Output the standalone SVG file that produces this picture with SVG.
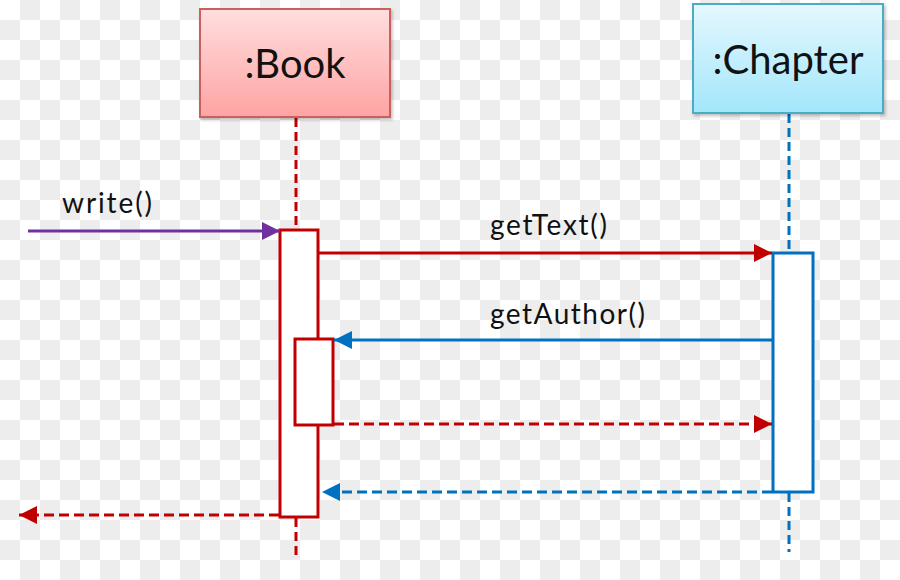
<svg xmlns="http://www.w3.org/2000/svg" width="900" height="580" viewBox="0 0 900 580">
  <defs>
    <pattern id="checker" width="40" height="40" patternUnits="userSpaceOnUse">
      <rect width="40" height="40" fill="#ffffff"/>
      <rect x="20" y="0" width="20" height="20" fill="#ededed"/>
      <rect x="0" y="20" width="20" height="20" fill="#ededed"/>
    </pattern>
    <linearGradient id="gBook" x1="0" y1="0" x2="0" y2="1">
      <stop offset="0" stop-color="#ffdede"/>
      <stop offset="1" stop-color="#ffa3a3"/>
    </linearGradient>
    <linearGradient id="gChap" x1="0" y1="0" x2="0" y2="1">
      <stop offset="0" stop-color="#e4f8ff"/>
      <stop offset="1" stop-color="#a3e6fb"/>
    </linearGradient>
    <filter id="shadow" x="-10%" y="-10%" width="125%" height="130%">
      <feDropShadow dx="1.5" dy="2" stdDeviation="1.5" flood-color="#000" flood-opacity="0.25"/>
    </filter>
    <marker id="aRed" viewBox="0 0 18 18" refX="18" refY="9" markerWidth="18" markerHeight="18" markerUnits="userSpaceOnUse" orient="auto">
      <path d="M0,0 L18,9 L0,18 Z" fill="#c00000"/>
    </marker>
    <marker id="aBlue" viewBox="0 0 18 18" refX="18" refY="9" markerWidth="18" markerHeight="18" markerUnits="userSpaceOnUse" orient="auto">
      <path d="M0,0 L18,9 L0,18 Z" fill="#0070c0"/>
    </marker>
    <marker id="aPurple" viewBox="0 0 18 18" refX="18" refY="9" markerWidth="18" markerHeight="18" markerUnits="userSpaceOnUse" orient="auto">
      <path d="M0,0 L18,9 L0,18 Z" fill="#7030a0"/>
    </marker>
  </defs>
  <style>
    .label { font-family: Lato, "Open Sans", "Liberation Sans", sans-serif; fill: #111; }
    .title { font-size: 40px; text-anchor: middle; }
    .msg { font-size: 28px; }
    .life-red { stroke: #c00000; stroke-width: 3; stroke-dasharray: 9 5; fill: none; }
    .life-blue { stroke: #0070c0; stroke-width: 3; stroke-dasharray: 9 5; fill: none; }
    .act-red { fill: #ffffff; stroke: #c00000; stroke-width: 3; }
    .act-blue { fill: #ffffff; stroke: #0070c0; stroke-width: 3; }
    .c-red { stroke: #c00000; stroke-width: 3; fill: none; }
    .c-blue { stroke: #0070c0; stroke-width: 3; fill: none; }
    .c-purple { stroke: #7030a0; stroke-width: 3; fill: none; }
    .dash { stroke-dasharray: 10 5; }
  </style>

  <rect width="900" height="580" fill="url(#checker)"/>

  <g id="lifelines">
    <line class="life-red" x1="296" y1="118" x2="296" y2="230"/>
    <line class="life-red" x1="296" y1="518" x2="296" y2="560"/>
    <line class="life-blue" x1="789" y1="114" x2="789" y2="253"/>
    <line class="life-blue" x1="789" y1="493" x2="789" y2="552"/>
  </g>

  <g id="book">
    <rect x="200" y="9" width="190" height="108" fill="url(#gBook)" stroke="#c9605d" stroke-width="2" filter="url(#shadow)"/>
    <text class="label title" x="295" y="78">:Book</text>
  </g>

  <g id="chapter">
    <rect x="693" y="4" width="190" height="109" fill="url(#gChap)" stroke="#4bacc6" stroke-width="2" filter="url(#shadow)"/>
    <text class="label title" x="788" y="74">:Chapter</text>
  </g>

  <g id="book-activation">
    <rect class="act-red" x="280" y="230" width="38" height="287"/>
  </g>
  <g id="book-nested-activation">
    <rect class="act-red" x="295" y="339" width="38" height="86"/>
  </g>
  <g id="chapter-activation">
    <rect class="act-blue" x="773" y="253" width="40" height="239"/>
  </g>

  <g id="connectors">
    <line class="c-purple" x1="28" y1="231" x2="280" y2="231" marker-end="url(#aPurple)"/>
    <line class="c-red" x1="319" y1="253" x2="772" y2="253" marker-end="url(#aRed)"/>
    <line class="c-blue" x1="772" y1="340" x2="334" y2="340" marker-end="url(#aBlue)"/>
    <line class="c-red dash" x1="334" y1="424" x2="772" y2="424" marker-end="url(#aRed)"/>
    <line class="c-blue dash" x1="772" y1="492" x2="322" y2="492" marker-end="url(#aBlue)"/>
    <line class="c-red dash" x1="279" y1="515" x2="19" y2="515" marker-end="url(#aRed)"/>
  </g>

  <g id="labels">
    <text class="label msg" x="62" y="213" textLength="90" lengthAdjust="spacing">write()</text>
    <text class="label msg" x="490" y="235" textLength="117" lengthAdjust="spacing">getText()</text>
    <text class="label msg" x="490" y="324" textLength="155" lengthAdjust="spacing">getAuthor()</text>
  </g>
</svg>
